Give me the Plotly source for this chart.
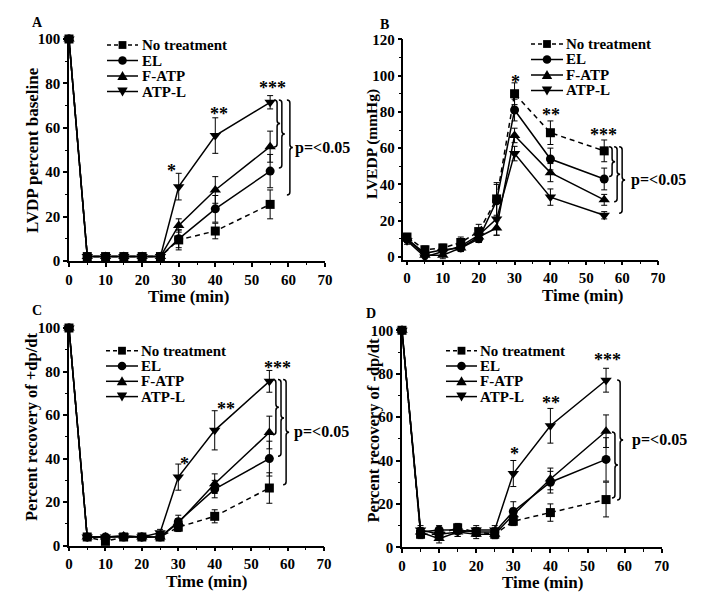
import plotly.graph_objects as go

# page body has an 8px margin: the figure is drawn 8px in from top-left
OFF = 8
W, H = 720, 588

time = [0, 5, 10, 15, 20, 25, 30, 40, 55]
series_names = ["No treatment", "EL", "F-ATP", "ATP-L"]

# Panel A: LVDP percent baseline
a_nt = [100, 2, 2, 2, 2, 2, 9.5, 13.5, 25.5]
a_el = [100, 2, 2, 2, 2, 2, 10, 23.5, 40.5]
a_fa = [100, 2, 2, 2, 2, 2, 16, 32, 51.5]
a_al = [100, 2, 2, 2, 2, 2, 33.5, 56.5, 71.5]
a_nt_err = [0, 0.5, 0.5, 0.5, 0.5, 0.5, 4.5, 3.5, 6.5]
a_el_err = [0, 0.5, 0.5, 0.5, 0.5, 0.5, 4, 6, 7.5]
a_fa_err = [0, 0.5, 0.5, 0.5, 0.5, 0.5, 3, 6, 7]
a_al_err = [0, 0.5, 0.5, 0.5, 0.5, 0.5, 6, 8, 3]

# Panel B: LVEDP (mmHg)
b_nt = [11, 4, 5, 8, 14, 32, 90, 68.5, 58.5]
b_el = [10, 2, 4, 5, 10, 31, 81, 54, 43]
b_fa = [10, 1, 1, 5, 11, 16, 67, 46.5, 31.5]
b_al = [9, 0, 3, 6, 12, 21, 57, 33, 23]
b_nt_err = [2, 2, 2, 3, 4, 9, 6, 6.5, 6]
b_el_err = [2, 2, 2, 2, 2, 9, 6, 6, 6]
b_fa_err = [2, 2, 2, 2, 3, 4, 4, 5, 3]
b_al_err = [2, 2, 2, 2, 3, 9, 4, 4.5, 2]

# Panel C: Percent recovery of +dp/dt
c_nt = [100, 4, 2, 4, 4, 4, 8.5, 13.5, 26.5]
c_el = [100, 4, 4, 4, 4, 4, 11, 26, 40]
c_fa = [100, 4, 4, 4.5, 4, 4, 10.5, 28.5, 52]
c_al = [100, 4, 4, 4.5, 4, 6, 31.5, 53, 75.5]
c_nt_err = [0, 1, 1, 1, 1, 1, 2, 3, 7]
c_el_err = [0, 1, 1, 1, 1, 1, 3, 4, 8]
c_fa_err = [0, 1, 1, 1, 1, 1, 2, 4.5, 7.5]
c_al_err = [0, 1, 1, 1, 1, 1.5, 6, 9, 5]

# Panel D: Percent recovery of -dp/dt
d_nt = [100, 6, 6, 9, 7, 6, 12, 16, 22]
d_el = [100, 7, 8, 8, 7, 7, 16.5, 30, 40.5]
d_fa = [100, 7, 4, 7, 6, 6, 15, 31.5, 53.5]
d_al = [100, 8, 6, 7, 8, 8, 34, 56, 77]
d_nt_err = [0, 2, 2, 2, 2, 2, 2, 4, 8]
d_el_err = [0, 2, 2, 2, 2, 2, 4.5, 5, 10]
d_fa_err = [0, 2, 2, 2, 2, 2, 3, 5, 7.5]
d_al_err = [0, 2, 2, 2, 2, 2, 6, 8, 5.5]

# significance stars: (x, y, text)
a_stars = [(28.0, 40.5, "*"), (41.0, 66, "**"), (55.6, 78, "***")]
b_stars = [(30.3, 96.5, "*"), (40.1, 78.5, "**"), (54.8, 67.5, "***")]
c_stars = [(31.6, 37.5, "*"), (43.0, 63, "**"), (57.3, 81.5, "***")]
d_stars = [(30.2, 43, "*"), (40.1, 66.5, "**"), (55.3, 86.5, "***")]

# braces: (x, top, bottom)
a_braces = [(56.9, 72.5, 51.4), (58.2, 72.5, 41.9), (60.4, 72.5, 29.7)]
b_braces = [(57.2, 60.8, 44.3), (58.6, 60.8, 30.5), (60.0, 60.8, 24.1)]
c_braces = [(56.8, 76.3, 51.0), (58.2, 76.3, 41.1), (59.6, 76.3, 28.0)]
d_braces = [(57.4, 53.1, 22.7), (58.8, 77.1, 21.8)]

FONT = "Liberation Serif, Times New Roman, serif"
symbols = ["square", "circle", "triangle-up", "triangle-down"]
dashes = ["5px,4px", "solid", "solid", "solid"]


def px(x, y):
    """reference-picture pixel -> paper fraction"""
    return (x - OFF) / W, 1 - (y - OFF) / H


panels = [
    dict(key="", vals=[a_nt, a_el, a_fa, a_al], errs=[a_nt_err, a_el_err, a_fa_err, a_al_err],
         xdom=[69, 325], ydom=[261, 39], xr=[0, 70], yr=[0, 100],
         ytitle="LVDP percent baseline", ytsize=17, letter="A", letterpos=(37, 23),
         xt=(188, 296), yt=(33, 150),
         leg=dict(x0=107, x1=138, tx=142, rows=[45, 60.5, 76, 91.5]),
         stars=a_stars, braces=a_braces, ptext=61.3),
    dict(key="2", vals=[b_nt, b_el, b_fa, b_al], errs=[b_nt_err, b_el_err, b_fa_err, b_al_err],
         xdom=[403.4, 658], ydom=[259.7, 39.3], xr=[-1, 70], yr=[-1.5, 120],
         ytitle="LVEDP (mmHg)", ytsize=15.5, letter="B", letterpos=(384, 24),
         xt=(582, 295), yt=(372, 144),
         leg=dict(x0=531, x1=563, tx=566, rows=[44, 59.5, 75, 90.5]),
         stars=b_stars, braces=b_braces, ptext=62.0),
    dict(key="3", vals=[c_nt, c_el, c_fa, c_al], errs=[c_nt_err, c_el_err, c_fa_err, c_al_err],
         xdom=[69, 324], ydom=[545.7, 328], xr=[0, 70], yr=[0, 100],
         ytitle="Percent recovery of +dp/dt", ytsize=16.5, letter="C", letterpos=(37, 310),
         xt=(206.7, 581), yt=(31, 427),
         leg=dict(x0=106, x1=138, tx=141, rows=[350.7, 366, 381.3, 396.6]),
         stars=c_stars, braces=c_braces, ptext=61.2),
    dict(key="4", vals=[d_nt, d_el, d_fa, d_al], errs=[d_nt_err, d_el_err, d_fa_err, d_al_err],
         xdom=[402, 661.7], ydom=[547.3, 330.3], xr=[0, 70], yr=[0, 100],
         ytitle="Percent recovery of -dp/dt", ytsize=16.5, letter="D", letterpos=(371, 313),
         xt=(542, 582), yt=(372.5, 430),
         leg=dict(x0=446, x1=477, tx=480, rows=[350.7, 366, 381.3, 396.6]),
         stars=d_stars, braces=d_braces, ptext=61.4),
]

fig = go.Figure()
layout = dict(
    width=W, height=H, margin=dict(l=0, r=0, t=0, b=0), showlegend=False,
    paper_bgcolor="white", plot_bgcolor="white",
    font=dict(family=FONT, size=15, color="black", weight="bold"),
)
shapes = []
annotations = []


def legend_glyph(sym, cx, cy):
    """small marker glyph drawn as a shape at reference pixel (cx, cy)"""
    r = 4.3
    if sym == "circle":
        x0, y0 = px(cx - r, cy - r)
        x1, y1 = px(cx + r, cy + r)
        return dict(type="circle", xref="paper", yref="paper", x0=x0, y0=y0, x1=x1, y1=y1,
                    fillcolor="black", line=dict(color="black", width=0))
    if sym == "square":
        s = 3.9
        pts = [(cx - s, cy - s), (cx + s, cy - s), (cx + s, cy + s), (cx - s, cy + s)]
    elif sym == "triangle-up":
        pts = [(cx - 5.2, cy + 4), (cx + 5.2, cy + 4), (cx, cy - 5)]
    else:
        pts = [(cx - 5.2, cy - 4), (cx + 5.2, cy - 4), (cx, cy + 5)]
    path = "M " + " L ".join(f"{px(a, b)[0]},{px(a, b)[1]}" for a, b in pts) + " Z"
    return dict(type="path", xref="paper", yref="paper", path=path,
                fillcolor="black", line=dict(color="black", width=0))


for p in panels:
    k = p["key"]
    xa = "x" + k
    ya = "y" + k
    for i, name in enumerate(series_names):
        fig.add_trace(go.Scatter(
            x=time, y=p["vals"][i], name=name, mode="lines+markers",
            xaxis=xa, yaxis=ya, cliponaxis=False,
            line=dict(color="black", width=1.5, dash=dashes[i]),
            marker=dict(symbol=symbols[i], size=9 if i < 2 else 10, color="black"),
            error_y=dict(type="data", array=p["errs"][i], color="black", thickness=1, width=3),
        ))
    axkw = dict(showline=True, linecolor="black", linewidth=1.5, showgrid=False, zeroline=False,
                ticks="outside", ticklen=4, tickwidth=1.5, tickcolor="black", automargin=False,
                tickfont=dict(size=15))
    dx0, _ = px(p["xdom"][0], 0)
    dx1, _ = px(p["xdom"][1], 0)
    _, dy0 = px(0, p["ydom"][0])
    _, dy1 = px(0, p["ydom"][1])
    layout["xaxis" + k] = dict(
        domain=[dx0, dx1], range=p["xr"], anchor=ya,
        tickmode="array", tickvals=[0, 10, 20, 30, 40, 50, 60, 70],
        minor=dict(ticks="outside", ticklen=2.5, tickwidth=1.2, tickcolor="black",
                   tickvals=[5, 15, 25, 35, 45, 55, 65]), **axkw)
    ytv = list(range(0, int(p["yr"][1]) + 1, 20))
    ymv = [v + 10 for v in ytv[:-1]]
    layout["yaxis" + k] = dict(
        domain=[dy0, dy1], range=p["yr"], anchor=xa,
        tickmode="array", tickvals=ytv,
        minor=dict(ticks="outside", ticklen=2.5, tickwidth=1.2, tickcolor="black", tickvals=ymv),
        **axkw)

    # axis titles
    tx, ty = px(*p["xt"])
    annotations.append(dict(x=tx, y=ty, xref="paper", yref="paper", text="Time (min)",
                            showarrow=False, font=dict(size=17), xanchor="center",
                            yanchor="middle"))
    tx, ty = px(*p["yt"])
    annotations.append(dict(x=tx, y=ty, xref="paper", yref="paper", text=p["ytitle"],
                            showarrow=False, font=dict(size=p["ytsize"]), textangle=-90,
                            xanchor="center", yanchor="middle"))

    # legend
    lg = p["leg"]
    for i, name in enumerate(series_names):
        ry = lg["rows"][i]
        lx0, ly0 = px(lg["x0"], ry)
        lx1, _ = px(lg["x1"], ry)
        shapes.append(dict(type="line", xref="paper", yref="paper", x0=lx0, y0=ly0, x1=lx1, y1=ly0,
                           line=dict(color="black", width=1.5, dash="4px,3px" if i == 0 else "solid")))
        shapes.append(legend_glyph(symbols[i], (lg["x0"] + lg["x1"]) / 2, ry))
        ttx, tty = px(lg["tx"], ry)
        annotations.append(dict(x=ttx, y=tty, xref="paper", yref="paper", text=name,
                                showarrow=False, xanchor="left", yanchor="middle",
                                font=dict(size=15), xshift=-2))

    for (sx, sy, st) in p["stars"]:
        annotations.append(dict(x=sx, y=sy, xref=xa, yref=ya, text=st, showarrow=False,
                                font=dict(size=18), yanchor="middle"))
    # braces
    ux = (p["xr"][1] - p["xr"][0]) / (p["xdom"][1] - p["xdom"][0])
    uy = (p["yr"][1] - p["yr"][0]) / (p["ydom"][0] - p["ydom"][1])
    w = 3 * ux
    dy = 3 * uy
    for (bx, top, bot) in p["braces"]:
        mid = (top + bot) / 2
        path = (f"M {bx - w},{top} Q {bx},{top} {bx},{top - dy} L {bx},{mid + dy} "
                f"Q {bx},{mid} {bx + w},{mid} Q {bx},{mid} {bx},{mid - dy} "
                f"L {bx},{bot + dy} Q {bx},{bot} {bx - w},{bot}")
        shapes.append(dict(type="path", path=path, xref=xa, yref=ya,
                           line=dict(color="black", width=1.5)))
    bx, top, bot = p["braces"][-1]
    annotations.append(dict(x=p["ptext"], y=(top + bot) / 2, xref=xa, yref=ya,
                            text="p=<0.05", showarrow=False, xanchor="left",
                            yanchor="middle", font=dict(size=16)))
    lx, ly = px(*p["letterpos"])
    annotations.append(dict(x=lx, y=ly, xref="paper", yref="paper",
                            text=p["letter"], showarrow=False, font=dict(size=14),
                            xanchor="center", yanchor="middle"))

layout["shapes"] = shapes
layout["annotations"] = annotations
fig.update_layout(**layout)
fig.write_html("out.html")
